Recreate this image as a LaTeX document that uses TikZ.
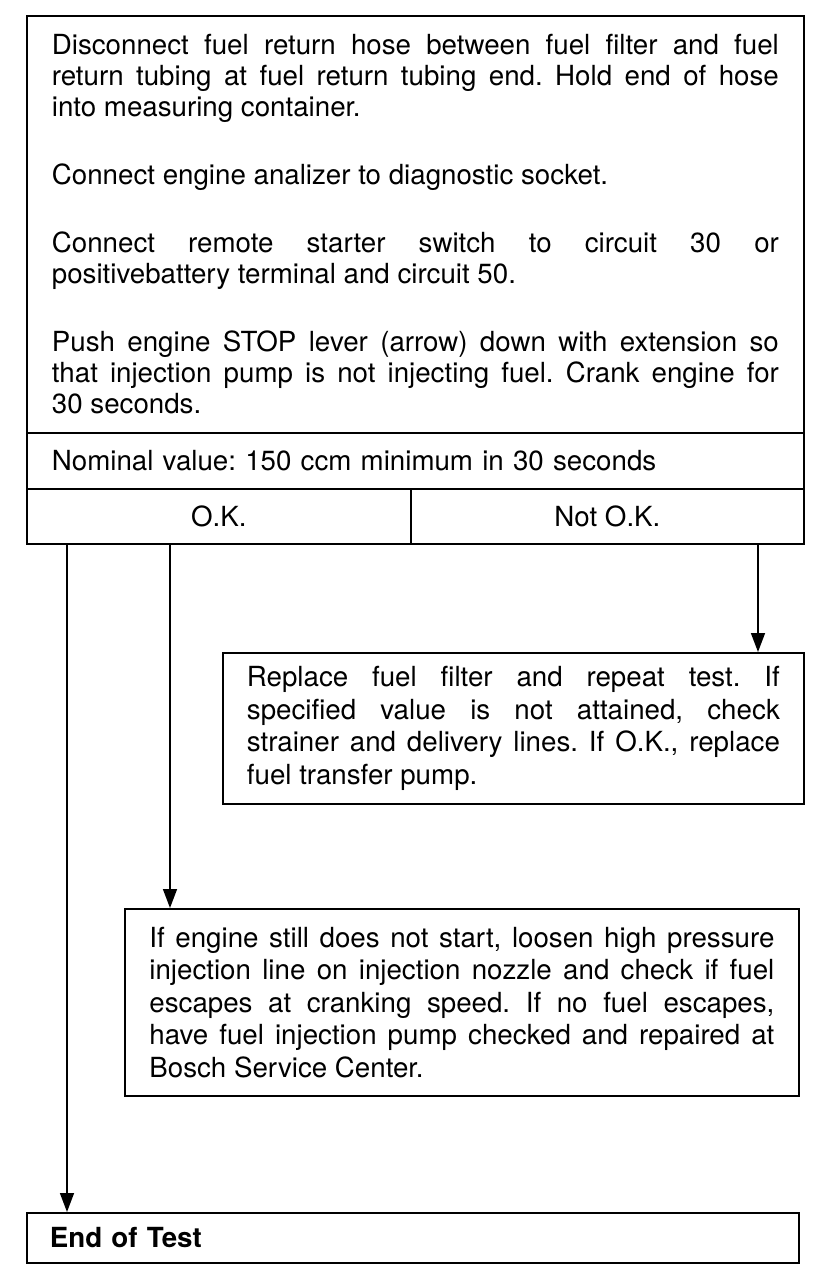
\documentclass[tikz,border=0pt]{standalone}
\usepackage{fontspec}
\setmainfont{TeX Gyre Heros}
\usetikzlibrary{arrows.meta,calc}
\hyphenpenalty=10000
\exhyphenpenalty=10000
\tolerance=10000
\frenchspacing
\begin{document}
\begin{tikzpicture}[x=1pt,y=-1pt,
  box/.style={draw, line width=1.8pt, anchor=north west, inner ysep=0pt,
    font=\fontsize{27.7}{31}\selectfont},
  sbox/.style={box, font=\fontsize{27.7}{32.5}\selectfont},
  arr/.style={line width=1.5pt, -{Triangle[length=19pt,width=14pt]}}]
\useasboundingbox (0,0) rectangle (832,1286);
\node[box, text width=727pt, inner xsep=25pt, minimum height=417pt, align=justify] (main) at (26,15)
{Disconnect fuel return hose between fuel filter and fuel\linebreak
return tubing at fuel return tubing end. Hold end of hose\linebreak
into measuring container.\\[37pt]
Connect engine analizer to diagnostic socket.\\[37pt]
Connect remote starter switch to circuit 30 or\linebreak
positivebattery terminal and circuit 50.\\[37pt]
Push engine STOP lever (arrow) down with extension so\linebreak
that injection pump is not injecting fuel. Crank engine for\linebreak
30 seconds.};
\node[box, text width=727pt, inner xsep=25pt, minimum height=56pt, align=left] (nom) at (26,432)
{Nominal value: 150 ccm minimum in 30 seconds};
\node[box, minimum width=384pt, minimum height=55pt] (ok) at (26,488) {O.K.};
\node[box, minimum width=393pt, minimum height=55pt] (nok) at (410,488) {Not O.K.};
\node[sbox, text width=533pt, inner xsep=24pt, minimum height=151pt, align=justify] (rep) at (222,652)
{Replace fuel filter and repeat test. If\linebreak
specified value is not attained, check\linebreak
strainer and delivery lines. If O.K., replace\linebreak
fuel transfer pump.};
\node[sbox, text width=625pt, inner xsep=24.5pt, minimum height=187pt, align=justify] (eng) at (124,908)
{If engine still does not start, loosen high pressure\linebreak
injection line on injection nozzle and check if fuel\linebreak
escapes at cranking speed. If no fuel escapes,\linebreak
have fuel injection pump checked and repaired at\linebreak
Bosch Service Center.};
\node[box, text width=726pt, inner xsep=23pt, minimum height=50pt, align=left, font=\fontsize{27.7}{31}\selectfont\bfseries] (endt) at (26,1212)
{End of Test};
\coordinate (a1) at ($(ok.south west)+(41,0)$);
\coordinate (a2) at ($(ok.south west)+(144,0)$);
\coordinate (a3) at ($(nok.south west)+(348,0)$);
\draw[arr] (a1) -- (a1 |- endt.north);
\draw[arr] (a2) -- (a2 |- eng.north);
\draw[arr] (a3) -- (a3 |- rep.north);
\end{tikzpicture}
\end{document}
